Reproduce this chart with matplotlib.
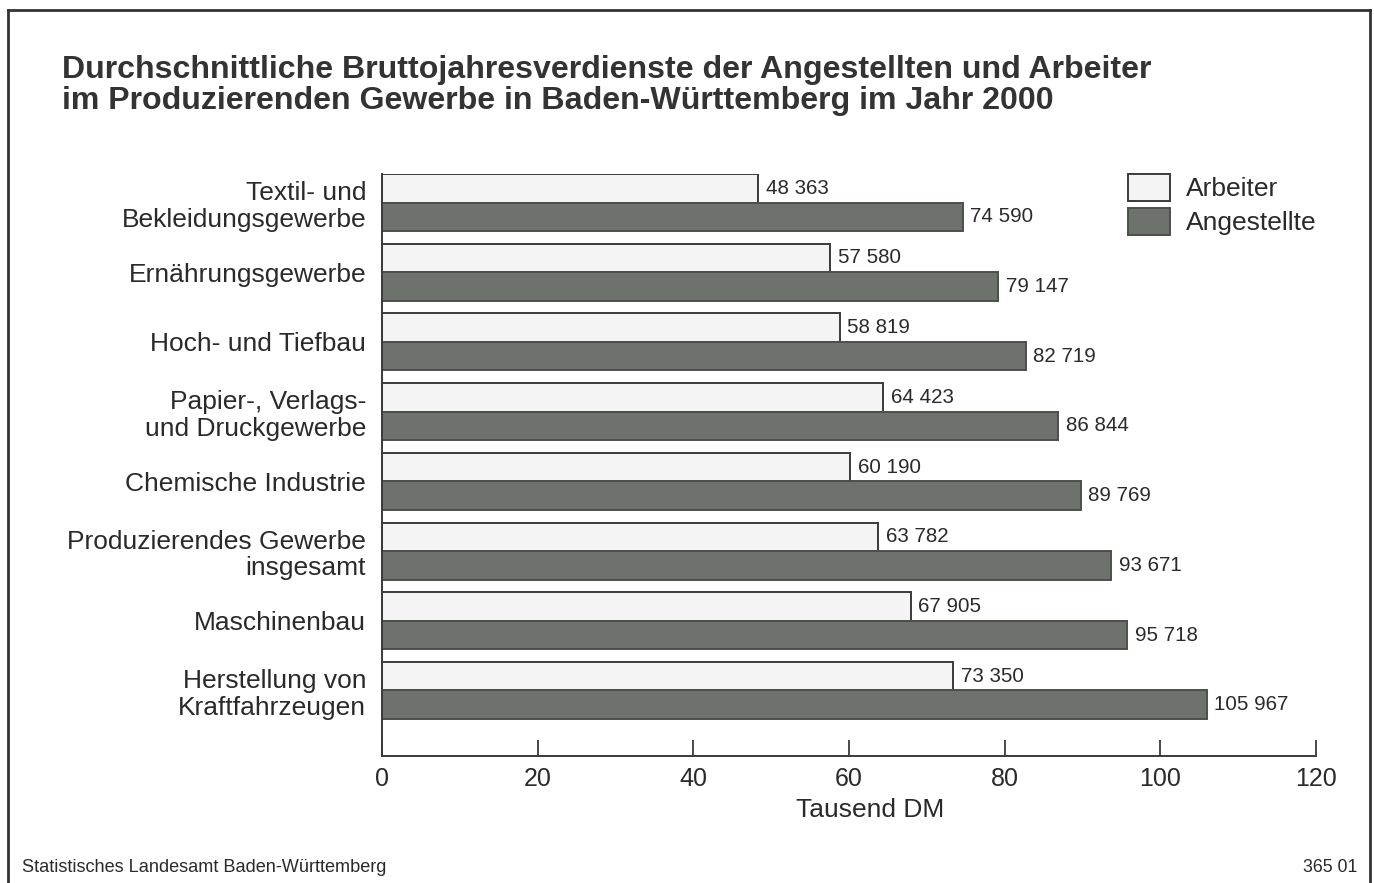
import matplotlib
matplotlib.use("Agg")
import matplotlib.pyplot as plt
from matplotlib.patches import Patch
from matplotlib.lines import Line2D
import numpy as np

plt.rcParams['font.family'] = ['Liberation Sans', 'DejaVu Sans']

categories = [
    "Textil- und\nBekleidungsgewerbe",
    "Ernährungsgewerbe",
    "Hoch- und Tiefbau",
    "Papier-, Verlags-\nund Druckgewerbe",
    "Chemische Industrie",
    "Produzierendes Gewerbe\ninsgesamt",
    "Maschinenbau",
    "Herstellung von\nKraftfahrzeugen",
]
arbeiter = [48363, 57580, 58819, 64423, 60190, 63782, 67905, 73350]
angestellte = [74590, 79147, 82719, 86844, 89769, 93671, 95718, 105967]
series_names = ["Arbeiter", "Angestellte"]
x_ticks = [0, 20, 40, 60, 80, 100, 120]
x_label = "Tausend DM"
title = ("Durchschnittliche Bruttojahresverdienste der Angestellten und Arbeiter\n"
         "im Produzierenden Gewerbe in Baden-Württemberg im Jahr 2000")
source = "Statistisches Landesamt Baden-Württemberg"
code = "365 01"

W, H = 1374, 883
fig = plt.figure(figsize=(W / 100, H / 100), dpi=100)
fig.patch.set_facecolor("white")

TXT = "#2a2a2a"
LIGHT = "#f4f4f4"
DARK = "#6e726d"
EDGE = "#3a3a3a"

ax = fig.add_axes([382 / W, 1 - 756 / H, (1316 - 382) / W, (756 - 174) / H])

n = len(categories)
pos = np.arange(n)
h = 0.409
a_vals = np.array(arbeiter) / 1000
b_vals = np.array(angestellte) / 1000

ax.barh(pos - h / 2, a_vals, height=h, color=LIGHT, edgecolor=EDGE, linewidth=1.4)
ax.barh(pos + h / 2, b_vals, height=h, color=DARK, edgecolor="#4c4f4b", linewidth=1.4)

def fmt(v):
    return f"{v:,}".replace(",", " ")

for i in range(n):
    ax.annotate(fmt(arbeiter[i]), (a_vals[i], pos[i] - h / 2), xytext=(5.5, 0),
                textcoords="offset points", va="center", ha="left",
                fontsize=14.8, color=TXT)
    ax.annotate(fmt(angestellte[i]), (b_vals[i], pos[i] + h / 2), xytext=(5.5, 0),
                textcoords="offset points", va="center", ha="left",
                fontsize=14.8, color=TXT)

ax.set_xlim(0, 120)
ax.set_ylim(7.94, -0.409)
ax.set_xticks(x_ticks)
ax.set_xticklabels([str(t) for t in x_ticks])
ax.tick_params(axis="x", direction="in", length=11.5, width=1.3, color=EDGE,
               labelsize=18, labelcolor=TXT, pad=8)
ax.set_yticks(pos)
ax.set_yticklabels(categories)
ax.tick_params(axis="y", length=0, labelsize=19, labelcolor=TXT, pad=11.5)
for lab in ax.get_yticklabels():
    lab.set_linespacing(1.15)

for s in ["top", "right"]:
    ax.spines[s].set_visible(False)
for s in ["left", "bottom"]:
    ax.spines[s].set_color(EDGE)
    ax.spines[s].set_linewidth(1.4)

fig.text(870 / W, 1 - 810 / H, x_label, ha="center", va="center",
         fontsize=19, color=TXT)

fig.text(62 / W, 1 - 55 / H, title, ha="left", va="top", fontsize=23.1,
         fontweight="bold", color="#333333", linespacing=1.06)

fig.text(22 / W, 1 - 867 / H, source, ha="left", va="center", fontsize=13.1, color=TXT)
fig.text(1357 / W, 1 - 867 / H, code, ha="right", va="center", fontsize=12.8, color=TXT)

handles = [Patch(facecolor=LIGHT, edgecolor=EDGE, linewidth=1.4, label=series_names[0]),
           Patch(facecolor=DARK, edgecolor="#4c4f4b", linewidth=1.4, label=series_names[1])]
fig.legend(handles=handles, loc="upper left", bbox_to_anchor=(1128 / W, 1 - 174 / H),
           frameon=False, borderpad=0, borderaxespad=0, handlelength=1.6,
           handleheight=1.2, handletextpad=0.6, labelspacing=0.25,
           fontsize=19, labelcolor=TXT)

# outer frame
lw = 2.0
fig.add_artist(Line2D([8 / W, 8 / W], [0, 1 - 10 / H], color="#333333", lw=lw))
fig.add_artist(Line2D([8 / W, 1370 / W], [1 - 10 / H, 1 - 10 / H], color="#333333", lw=lw))
fig.add_artist(Line2D([1370 / W, 1370 / W], [0, 1 - 10 / H], color="#333333", lw=lw))

fig.savefig("out.png", dpi=100, facecolor="white")
